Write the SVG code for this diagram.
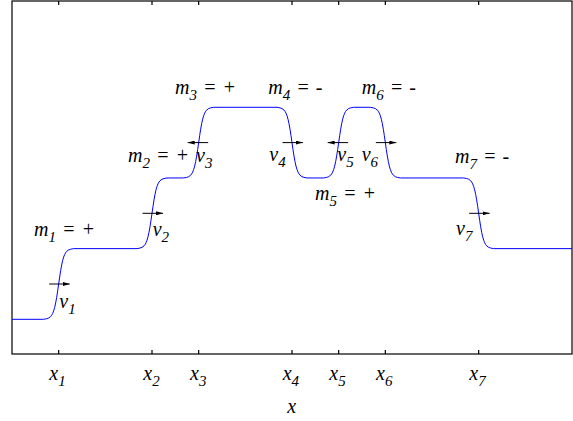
<svg xmlns="http://www.w3.org/2000/svg" width="573" height="421" viewBox="0 0 573 421">
<style>
.t{font-family:"Liberation Serif","Times New Roman",serif;font-style:italic;font-size:20px;fill:#000}
.s{font-size:15px}
.w{word-spacing:1px}
.ax{fill:none;stroke:#000;stroke-width:1.2}
.cv{fill:none;stroke:#0000ff;stroke-width:1}
.ar{fill:none;stroke:#000;stroke-width:1;marker-end:url(#ah)}
</style>
<defs>
<marker id="ah" viewBox="0 0 7 4" refX="7" refY="2" markerWidth="7" markerHeight="4" orient="auto" markerUnits="userSpaceOnUse"><path d="M0,0 L7,2 L0,4 z" fill="#000"/></marker>
</defs>
<rect fill="#fff" x="0" y="0" width="573" height="421"/>
<g id="frame">
<rect class="ax" x="12" y="1" width="560" height="353"/>
<path class="ax" d="M58.67,1v4M152,1v4M198.67,1v4M292,1v4M338.67,1v4M385.33,1v4M478.67,1v4M58.67,354v-4M152,354v-4M198.67,354v-4M292,354v-4M338.67,354v-4M385.33,354v-4M478.67,354v-4"/>
</g>
<g id="curve">
<path class="cv" d="M12,319.3 H43.67 l3,-0.57 2,-0.70 2,-1.49 1,-1.29 1,-1.82 1,-2.55 1,-3.45 1,-4.49 1,-5.55 1,-6.45 1,-6.97 1,-6.97 1,-6.45 1,-5.55 1,-4.49 1,-3.45 1,-2.55 1,-1.82 1,-1.29 2,-1.49 2,-0.70 3,-0.58
H137 l3,-0.57 2,-0.70 2,-1.49 1,-1.29 1,-1.82 1,-2.55 1,-3.45 1,-4.49 1,-5.55 1,-6.45 1,-6.97 1,-6.97 1,-6.45 1,-5.55 1,-4.49 1,-3.45 1,-2.55 1,-1.82 1,-1.29 2,-1.49 2,-0.70 3,-0.58
H183.67 l3,-0.57 2,-0.70 2,-1.49 1,-1.29 1,-1.82 1,-2.55 1,-3.45 1,-4.49 1,-5.55 1,-6.45 1,-6.97 1,-6.97 1,-6.45 1,-5.55 1,-4.49 1,-3.45 1,-2.55 1,-1.82 1,-1.29 2,-1.49 2,-0.70 3,-0.58
H277 l3,0.57 2,0.70 2,1.49 1,1.29 1,1.82 1,2.55 1,3.45 1,4.49 1,5.55 1,6.45 1,6.97 1,6.97 1,6.45 1,5.55 1,4.49 1,3.45 1,2.55 1,1.82 1,1.29 2,1.49 2,0.70 3,0.58
H323.67 l3,-0.57 2,-0.70 2,-1.49 1,-1.29 1,-1.82 1,-2.55 1,-3.45 1,-4.49 1,-5.55 1,-6.45 1,-6.97 1,-6.97 1,-6.45 1,-5.55 1,-4.49 1,-3.45 1,-2.55 1,-1.82 1,-1.29 2,-1.49 2,-0.70 3,-0.58
H370.33 l3,0.57 2,0.70 2,1.49 1,1.29 1,1.82 1,2.55 1,3.45 1,4.49 1,5.55 1,6.45 1,6.97 1,6.97 1,6.45 1,5.55 1,4.49 1,3.45 1,2.55 1,1.82 1,1.29 2,1.49 2,0.70 3,0.58
H463.67 l3,0.57 2,0.70 2,1.49 1,1.29 1,1.82 1,2.55 1,3.45 1,4.49 1,5.55 1,6.45 1,6.97 1,6.97 1,6.45 1,5.55 1,4.49 1,3.45 1,2.55 1,1.82 1,1.29 2,1.49 2,0.70 3,0.58
H572"/>
</g>
<g id="arrows">
<path class="ar" d="M49.17,284H69.67"/>
<path class="ar" d="M142.5,213.3H163"/>
<path class="ar" d="M208.17,142.6H187.67"/>
<path class="ar" d="M282.5,142.6H303"/>
<path class="ar" d="M348.17,142.6H327.67"/>
<path class="ar" d="M375.83,142.6H396.33"/>
<path class="ar" d="M469.17,213.3H489.67"/>
</g>
<g id="labels" class="t">
<text x="34" y="235.5">m<tspan class="s" dy="6">1</tspan><tspan class="w" dy="-6"> = +</tspan></text>
<text x="128" y="161.5">m<tspan class="s" dy="6">2</tspan><tspan class="w" dy="-6"> = +</tspan></text>
<text x="175" y="93.5">m<tspan class="s" dy="6">3</tspan><tspan class="w" dy="-6"> = +</tspan></text>
<text x="268.3" y="93.5">m<tspan class="s" dy="6">4</tspan><tspan class="w" dy="-6"> = -</tspan></text>
<text x="315" y="200">m<tspan class="s" dy="6">5</tspan><tspan class="w" dy="-6"> = +</tspan></text>
<text x="361.7" y="93.5">m<tspan class="s" dy="6">6</tspan><tspan class="w" dy="-6"> = -</tspan></text>
<text x="455" y="163">m<tspan class="s" dy="6">7</tspan><tspan class="w" dy="-6"> = -</tspan></text>
<text x="59.3" y="308">v<tspan class="s" dy="6">1</tspan></text>
<text x="152.7" y="235.5">v<tspan class="s" dy="6">2</tspan></text>
<text x="196" y="161.5">v<tspan class="s" dy="6">3</tspan></text>
<text x="269.3" y="161">v<tspan class="s" dy="6">4</tspan></text>
<text x="337.3" y="161">v<tspan class="s" dy="6">5</tspan></text>
<text x="361.7" y="161">v<tspan class="s" dy="6">6</tspan></text>
<text x="456" y="235">v<tspan class="s" dy="6">7</tspan></text>
<text x="49.3" y="380">x<tspan class="s" dy="6">1</tspan></text>
<text x="143.3" y="380">x<tspan class="s" dy="6">2</tspan></text>
<text x="190" y="380">x<tspan class="s" dy="6">3</tspan></text>
<text x="282.7" y="380">x<tspan class="s" dy="6">4</tspan></text>
<text x="329.3" y="380">x<tspan class="s" dy="6">5</tspan></text>
<text x="376" y="380">x<tspan class="s" dy="6">6</tspan></text>
<text x="469.3" y="380">x<tspan class="s" dy="6">7</tspan></text>
<text x="287.3" y="413">x</text>
</g>
</svg>
